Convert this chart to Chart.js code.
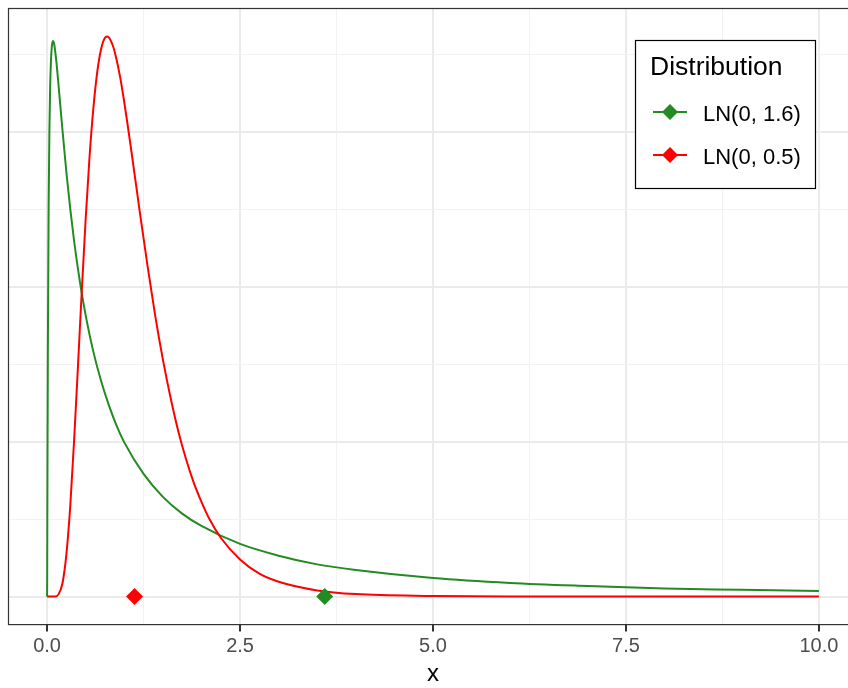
<!DOCTYPE html>
<html>
<head>
<meta charset="utf-8">
<script src="https://cdn.jsdelivr.net/npm/chart.js@4.4.1/dist/chart.umd.min.js"></script>
<style>
  html, body { margin: 0; padding: 0; background: #fff; overflow: hidden; }
  #densityChart { display: block; }
</style>
</head>
<body>
<canvas id="densityChart" width="866" height="688"></canvas>
<script>
// Two log-normal densities with their means marked on the x axis
const seriesNames = ['LN(0, 1.6)', 'LN(0, 0.5)'];
const seriesColors = ['#228B22', '#FF0000'];

const wideX = [0, 0.001, 0.002, 0.003, 0.005, 0.01, 0.02, 0.03, 0.04, 0.05, 0.06, 0.07, 0.0773, 0.09, 0.1,
  0.12, 0.15, 0.2, 0.25, 0.3, 0.35, 0.4, 0.45, 0.5, 0.6, 0.7, 0.8, 0.9, 1, 1.25, 1.5, 1.75, 2, 2.5, 3, 3.5, 4, 5, 6, 7, 8, 9, 10];
const wideDensity = [0, 0.022, 0.066, 0.114, 0.207, 0.396, 0.628, 0.753, 0.824, 0.864, 0.886, 0.895, 0.897, 0.893, 0.885,
  0.864, 0.823, 0.752, 0.685, 0.626, 0.574, 0.529, 0.489, 0.454, 0.395, 0.348, 0.309, 0.276, 0.249, 0.198, 0.161, 0.134, 0.114, 0.085, 0.066, 0.052, 0.043, 0.030, 0.022, 0.017, 0.013, 0.011, 0.009];

const narrowX = [0, 0.1, 0.15, 0.2, 0.25, 0.3, 0.35, 0.4, 0.45, 0.5, 0.55, 0.6, 0.65, 0.7, 0.75, 0.7788, 0.85, 0.9, 0.95,
  1, 1.05, 1.1, 1.15, 1.2, 1.3, 1.4, 1.5, 1.6, 1.7, 1.8, 1.9, 2, 2.1, 2.25, 2.5, 2.75, 3, 3.5, 4, 5, 6, 8, 10];
const narrowDensity = [0, 0.000, 0.004, 0.022, 0.068, 0.146, 0.252, 0.372, 0.495, 0.610, 0.710, 0.789, 0.847, 0.884, 0.902, 0.904, 0.890, 0.867, 0.836,
  0.798, 0.756, 0.712, 0.667, 0.622, 0.535, 0.454, 0.383, 0.321, 0.267, 0.222, 0.184, 0.153, 0.126, 0.095, 0.060, 0.037, 0.024, 0.010, 0.004, 0.001, 0.000, 0.000, 0.000];

const meanX = [3.597, 1.133];

const xGrid = [0, 1.25, 2.5, 3.75, 5, 6.25, 7.5, 8.75, 10];
const xMajor = [0, 2.5, 5, 7.5, 10];
const xTickLabels = ['0.0', '2.5', '5.0', '7.5', '10.0'];
const yGrid = [0, 0.125, 0.25, 0.375, 0.5, 0.625, 0.75, 0.875];
const yMajor = [0, 0.25, 0.5, 0.75];

const FONT = '"Liberation Sans", Arial, sans-serif';

const toPoints = (xs, ys) => xs.map((x, i) => ({ x: x, y: ys[i] }));
const isMajor = (list, v) => list.some(m => Math.abs(m - v) < 1e-9);

// panel border drawn over the data, like a ggplot theme_bw panel
const panelBorder = {
  id: 'panelBorder',
  afterDatasetsDraw(chart) {
    const { ctx, chartArea: a } = chart;
    ctx.save();
    ctx.strokeStyle = '#333333';
    ctx.lineWidth = 1.2;
    ctx.strokeRect(a.left, a.top, a.right - a.left, a.bottom - a.top);
    ctx.restore();
  }
};

// boxed legend inside the panel with line + diamond keys
const boxLegend = {
  id: 'boxLegend',
  afterDraw(chart) {
    const ctx = chart.ctx;
    const box = { x: 635.5, y: 40.5, w: 180, h: 148 };
    ctx.save();
    ctx.fillStyle = '#ffffff';
    ctx.fillRect(box.x, box.y, box.w, box.h);
    ctx.strokeStyle = '#000000';
    ctx.lineWidth = 1.2;
    ctx.strokeRect(box.x, box.y, box.w, box.h);

    ctx.fillStyle = '#000000';
    ctx.font = '26.5px ' + FONT;
    ctx.textBaseline = 'alphabetic';
    ctx.fillText('Distribution', 650, 75);

    const rows = [112, 155];
    seriesNames.forEach((name, i) => {
      const cy = rows[i];
      ctx.strokeStyle = seriesColors[i];
      ctx.lineWidth = 2;
      ctx.beginPath();
      ctx.moveTo(653, cy);
      ctx.lineTo(687, cy);
      ctx.stroke();
      ctx.fillStyle = seriesColors[i];
      ctx.beginPath();
      ctx.moveTo(670 - 8, cy);
      ctx.lineTo(670, cy - 8);
      ctx.lineTo(670 + 8, cy);
      ctx.lineTo(670, cy + 8);
      ctx.closePath();
      ctx.fill();
      ctx.fillStyle = '#000000';
      ctx.font = '22px ' + FONT;
      ctx.fillText(name, 703, cy + 9);
    });
    ctx.restore();
  }
};

new Chart(document.getElementById('densityChart'), {
  type: 'line',
  data: {
    datasets: [
      {
        label: seriesNames[0] + ' mean',
        data: [{ x: meanX[0], y: 0 }],
        showLine: false,
        pointStyle: 'rectRot',
        pointRadius: 8.5,
        backgroundColor: seriesColors[0],
        borderColor: seriesColors[0],
        borderWidth: 0,
        order: 0
      },
      {
        label: seriesNames[1] + ' mean',
        data: [{ x: meanX[1], y: 0 }],
        showLine: false,
        pointStyle: 'rectRot',
        pointRadius: 8.5,
        backgroundColor: seriesColors[1],
        borderColor: seriesColors[1],
        borderWidth: 0,
        order: 0
      },
      {
        label: seriesNames[1],
        data: toPoints(narrowX, narrowDensity),
        borderColor: seriesColors[1],
        borderWidth: 2,
        pointRadius: 0,
        cubicInterpolationMode: 'monotone',
        order: 1
      },
      {
        label: seriesNames[0],
        data: toPoints(wideX, wideDensity),
        borderColor: seriesColors[0],
        borderWidth: 2,
        pointRadius: 0,
        cubicInterpolationMode: 'monotone',
        order: 2
      }
    ]
  },
  options: {
    responsive: false,
    animation: false,
    layout: { padding: { left: 6, top: 8, right: 4, bottom: 0 } },
    plugins: {
      legend: { display: false },
      tooltip: { enabled: false }
    },
    scales: {
      x: {
        type: 'linear',
        min: -0.5,
        max: 10.5,
        afterBuildTicks: axis => { axis.ticks = xGrid.map(v => ({ value: v })); },
        ticks: {
          autoSkip: false,
          maxRotation: 0,
          padding: 3,
          color: '#4D4D4D',
          font: { family: FONT, size: 20, lineHeight: 1.2 },
          callback: value => {
            const i = xMajor.findIndex(m => Math.abs(m - value) < 1e-9);
            return i >= 0 ? xTickLabels[i] : '';
          }
        },
        grid: {
          color: c => isMajor(xMajor, c.tick.value) ? '#EBEBEB' : '#F2F2F2',
          lineWidth: c => isMajor(xMajor, c.tick.value) ? 2 : 1,
          tickColor: c => isMajor(xMajor, c.tick.value) ? '#333333' : 'rgba(0,0,0,0)',
          tickWidth: 2,
          tickLength: 7
        },
        border: { display: false },
        title: {
          display: true,
          text: 'x',
          color: '#000000',
          font: { family: FONT, size: 24, lineHeight: 1.1 },
          padding: { top: 0, bottom: 0 }
        }
      },
      y: {
        type: 'linear',
        min: -0.0452,
        max: 0.9493,
        afterBuildTicks: axis => { axis.ticks = yGrid.map(v => ({ value: v })); },
        ticks: { display: false },
        grid: {
          color: c => isMajor(yMajor, c.tick.value) ? '#EBEBEB' : '#F2F2F2',
          lineWidth: c => isMajor(yMajor, c.tick.value) ? 2 : 1,
          drawTicks: false
        },
        border: { display: false }
      }
    }
  },
  plugins: [panelBorder, boxLegend]
});
</script>
</body>
</html>
